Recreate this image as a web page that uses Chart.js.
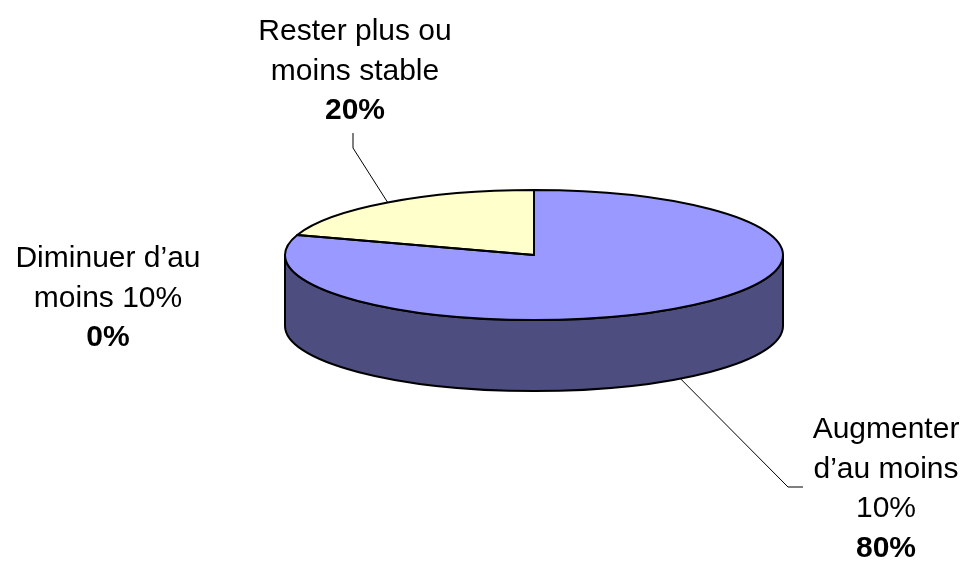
<!DOCTYPE html>
<html lang="fr">
<head>
  <meta charset="UTF-8">
  <title>Répartition</title>
  <style>
    * { margin: 0; padding: 0; box-sizing: border-box; }
    body { background: #ffffff; width: 967px; height: 562px; overflow: hidden; }
    .chart-box { position: relative; width: 967px; height: 562px; }
  </style>
</head>
<body>
<div class="chart-box">
  <canvas id="pieChart"></canvas>
</div>

<script src="https://cdn.jsdelivr.net/npm/chart.js"></script>
<script>
  // data
  const categories = ['Augmenter d’au moins 10%', 'Rester plus ou moins stable', 'Diminuer d’au moins 10%'];
  const percentages = [80, 20, 0];
  const labelLines = [
    ['Augmenter', 'd’au moins', '10%'],
    ['Rester plus ou', 'moins stable'],
    ['Diminuer d’au', 'moins 10%']
  ];

  const topColors = ['#9999ff', '#ffffcc', '#993366'];
  const sideColors = ['#4d4d80', '#808066', '#4d1a33'];

  // 3d look: vertical squash of the pie and wall height
  const FLAT = 0.261;
  const DEPTH = 71;
  const FONT = '30px "Liberation Sans", Arial, sans-serif';
  const FONT_BOLD = 'bold 30px "Liberation Sans", Arial, sans-serif';
  const LINE_H = 39.5;

  // where each label sits (center x, first baseline) and its leader elbow
  const labelPlaces = [
    { x: 886, y: 438, leader: [[803, 487], [788, 487]] },
    { x: 355, y: 40, leader: [[353, 133], [353, 148]] },
    { x: 108, y: 267, leader: null }
  ];

  function arcsOf(chart) {
    return chart.getDatasetMeta(0).data;
  }

  const pie3d = {
    id: 'pie3d',
    beforeDatasetsDraw(chart) {
      const ctx = chart.ctx;
      const arcs = arcsOf(chart);
      const cx = arcs[0].x, cy = arcs[0].y;
      const rx = arcs[0].outerRadius, ry = rx * FLAT;

      // outer wall, front half only
      ctx.save();
      ctx.lineWidth = 2;
      ctx.strokeStyle = '#000';
      ctx.lineJoin = 'round';
      arcs.forEach((arc, i) => {
        if (arc.endAngle - arc.startAngle <= 0) return;
        for (let k = -1; k <= 1; k++) {
          const f0 = 2 * Math.PI * k, f1 = Math.PI + 2 * Math.PI * k;
          const a0 = Math.max(arc.startAngle, f0);
          const a1 = Math.min(arc.endAngle, f1);
          if (a1 <= a0) continue;
          ctx.beginPath();
          ctx.ellipse(cx, cy, rx, ry, 0, a0, a1);
          ctx.ellipse(cx, cy + DEPTH, rx, ry, 0, a1, a0, true);
          ctx.closePath();
          ctx.fillStyle = sideColors[i];
          ctx.fill();
          ctx.stroke();
        }
      });
      ctx.restore();

      // squash the top face that chart.js draws
      ctx.save();
      ctx.translate(cx, cy);
      ctx.scale(1, FLAT);
      ctx.translate(-cx, -cy);
    },
    afterDatasetsDraw(chart) {
      const ctx = chart.ctx;
      ctx.restore();
      const arcs = arcsOf(chart);
      const cx = arcs[0].x, cy = arcs[0].y;
      const rx = arcs[0].outerRadius, ry = rx * FLAT;

      ctx.save();
      ctx.lineWidth = 2;
      ctx.strokeStyle = '#000';
      ctx.lineJoin = 'round';
      arcs.forEach(arc => {
        if (arc.endAngle - arc.startAngle <= 0) return;
        ctx.beginPath();
        ctx.moveTo(cx, cy);
        ctx.ellipse(cx, cy, rx, ry, 0, arc.startAngle, arc.endAngle);
        ctx.closePath();
        ctx.stroke();
      });
      ctx.restore();
    },
    afterDraw(chart) {
      const ctx = chart.ctx;
      const arcs = arcsOf(chart);
      const cx = arcs[0].x, cy = arcs[0].y;
      const rx = arcs[0].outerRadius, ry = rx * FLAT;

      ctx.save();
      ctx.fillStyle = '#000';
      ctx.textAlign = 'center';
      ctx.textBaseline = 'alphabetic';
      labelPlaces.forEach((p, i) => {
        const lines = labelLines[i];
        ctx.font = FONT;
        lines.forEach((t, j) => ctx.fillText(t, p.x, p.y + j * LINE_H));
        ctx.font = FONT_BOLD;
        ctx.fillText(percentages[i] + '%', p.x, p.y + lines.length * LINE_H);

        if (p.leader) {
          const arc = arcs[i];
          const mid = (arc.startAngle + arc.endAngle) / 2;
          const s = Math.sin(mid);
          const ex = cx + rx * Math.cos(mid);
          const ey = cy + ry * s + (s > 0 ? DEPTH : 0);
          ctx.beginPath();
          ctx.strokeStyle = '#000';
          ctx.lineWidth = 1;
          ctx.moveTo(p.leader[0][0], p.leader[0][1]);
          ctx.lineTo(p.leader[1][0], p.leader[1][1]);
          ctx.lineTo(ex, ey);
          ctx.stroke();
        }
      });
      ctx.restore();
    }
  };

  new Chart(document.getElementById('pieChart'), {
    type: 'pie',
    data: {
      labels: categories,
      datasets: [{
        data: percentages,
        backgroundColor: topColors,
        borderWidth: 0,
        clip: false
      }]
    },
    options: {
      responsive: true,
      maintainAspectRatio: false,
      animation: false,
      events: [],
      layout: { padding: { left: 285, right: 184, top: 6, bottom: 58 } },
      plugins: {
        legend: { display: false },
        tooltip: { enabled: false }
      }
    },
    plugins: [pie3d]
  });
</script>
</body>
</html>
